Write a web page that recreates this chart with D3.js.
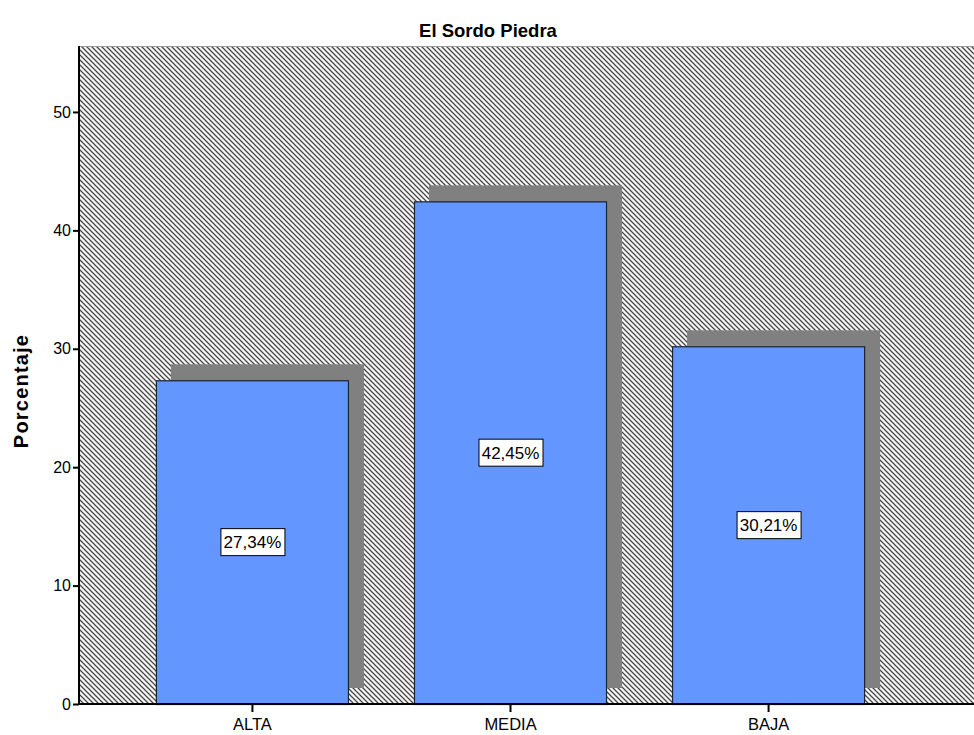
<!DOCTYPE html>
<html>
<head>
<meta charset="utf-8">
<script src="https://d3js.org/d3.v7.min.js"></script>
<style>
  body { margin: 0; background: #fff; }
  svg { display: block; font-family: "Liberation Sans", Arial, sans-serif; }
</style>
</head>
<body>
<svg id="chart" width="974" height="735"></svg>
<script>
// chart data
const categories = ['ALTA', 'MEDIA', 'BAJA'];
const percents = [27.34, 42.45, 30.21];
const yTicks = [0, 10, 20, 30, 40, 50];
const title = 'El Sordo Piedra';
const yTitle = 'Porcentaje';

const svg = d3.select('#chart');
const plotLeft = 79, plotTop = 46, plotBottom = 704, plotRight = 974;

// scales
const xScale = d3.scaleBand()
  .domain(categories)
  .range([plotLeft, 942])
  .paddingInner(0.252)
  .paddingOuter(0.298);
const yScale = d3.scaleLinear().domain([0, 55.57]).range([plotBottom, plotTop]);

// hatched background pattern
const defs = svg.append('defs');
const pat = defs.append('pattern')
  .attr('id', 'hatch')
  .attr('patternUnits', 'userSpaceOnUse')
  .attr('width', 5)
  .attr('height', 5);
pat.append('rect').attr('width', 5).attr('height', 5).attr('fill', '#f6f6f6');
pat.append('path')
  .attr('d', 'M-1,-1 L6,6 M-1,4 L1,6 M4,-1 L6,1')
  .attr('stroke', '#474747')
  .attr('stroke-width', 1.25);

svg.append('rect')
  .attr('x', plotLeft)
  .attr('y', plotTop)
  .attr('width', plotRight - plotLeft)
  .attr('height', plotBottom - plotTop)
  .attr('fill', 'url(#hatch)');
svg.append('line')
  .attr('x1', plotLeft).attr('x2', plotRight)
  .attr('y1', plotTop + 0.5).attr('y2', plotTop + 0.5)
  .attr('stroke', '#999');

// shadows behind bars
const shadowDx = 15, shadowDy = -16;
svg.append('g')
  .selectAll('rect')
  .data(percents)
  .enter()
  .append('rect')
  .attr('x', (d, i) => xScale(categories[i]) + shadowDx)
  .attr('y', d => yScale(d) + shadowDy)
  .attr('width', xScale.bandwidth())
  .attr('height', d => yScale(0) - yScale(d))
  .attr('fill', '#808080');

// bars
svg.append('g')
  .selectAll('rect')
  .data(percents)
  .enter()
  .append('rect')
  .attr('x', (d, i) => xScale(categories[i]) + 0.5)
  .attr('y', d => yScale(d) + 0.5)
  .attr('width', xScale.bandwidth() - 1)
  .attr('height', d => yScale(0) - yScale(d))
  .attr('fill', '#6396ff')
  .attr('stroke', '#1c2233')
  .attr('stroke-width', 1.2);

// value labels
const fmt = d => d.toFixed(2).replace('.', ',') + '%';
const labels = svg.append('g')
  .selectAll('g')
  .data(percents)
  .enter()
  .append('g')
  .attr('transform', (d, i) => `translate(${xScale(categories[i]) + xScale.bandwidth() / 2}, ${(yScale(d) + yScale(0)) / 2})`);
labels.append('text')
  .text(fmt)
  .attr('text-anchor', 'middle')
  .attr('dy', '0.36em')
  .style('font-size', '17px')
  .attr('fill', '#000');
labels.each(function () {
  const g = d3.select(this);
  const bb = g.select('text').node().getBBox();
  g.insert('rect', 'text')
    .attr('x', Math.round(bb.x - 3) + 0.5)
    .attr('y', -13.5)
    .attr('width', Math.round(bb.width + 6))
    .attr('height', 27)
    .attr('fill', '#fff')
    .attr('stroke', '#000');
});

// y axis
const yAxis = d3.axisLeft(yScale).tickValues(yTicks).tickSize(6).tickPadding(2);
const yG = svg.append('g')
  .attr('transform', `translate(${plotLeft}, 0)`)
  .call(yAxis);
yG.selectAll('text').style('font-size', '16px').attr('fill', '#000');
yG.selectAll('line').attr('stroke', '#000').attr('stroke-width', 2);
yG.select('.domain').remove();

// x axis
const xAxis = d3.axisBottom(xScale).tickSize(8).tickPadding(6);
const xG = svg.append('g')
  .attr('transform', `translate(0, ${plotBottom})`)
  .call(xAxis);
xG.selectAll('text').style('font-size', '16.5px').attr('fill', '#000');
xG.selectAll('line').attr('stroke', '#000').attr('stroke-width', 2);
xG.select('.domain').remove();

// axis lines
svg.append('line')
  .attr('x1', plotLeft).attr('x2', plotLeft)
  .attr('y1', plotTop).attr('y2', plotBottom + 1)
  .attr('stroke', '#000').attr('stroke-width', 2);
svg.append('line')
  .attr('x1', plotLeft - 1).attr('x2', plotRight)
  .attr('y1', plotBottom).attr('y2', plotBottom)
  .attr('stroke', '#000').attr('stroke-width', 2);

// titles
svg.append('text')
  .text(title)
  .attr('x', 488)
  .attr('y', 37)
  .attr('text-anchor', 'middle')
  .style('font-size', '18.5px')
  .style('font-weight', 'bold');
svg.append('text')
  .text(yTitle)
  .attr('transform', `translate(28, 391) rotate(-90)`)
  .attr('text-anchor', 'middle')
  .style('font-size', '20px')
  .style('letter-spacing', '1.2px')
  .style('font-weight', 'bold');
</script>
</body>
</html>
